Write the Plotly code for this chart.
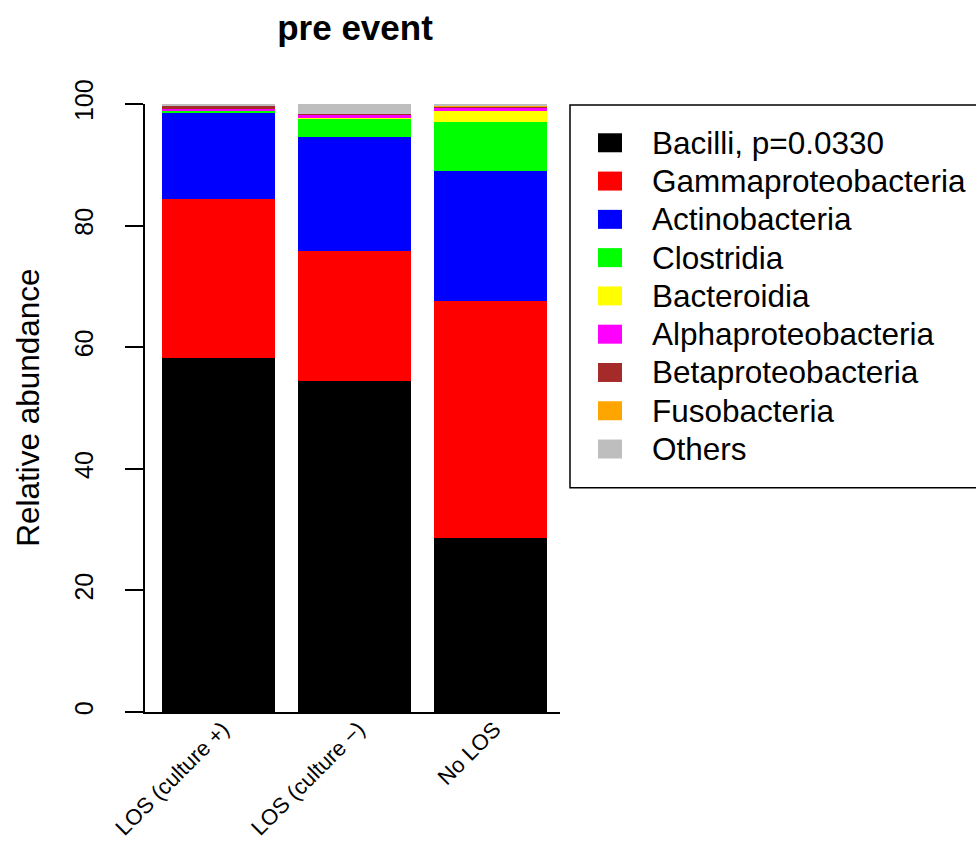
import plotly.graph_objects as go

# Relative abundance (%) of bacterial classes per group, before the event
groups = ["LOS (culture +)", "LOS (culture \u2212)", "No LOS"]

taxa = [
    "Bacilli, p=0.0330",
    "Gammaproteobacteria",
    "Actinobacteria",
    "Clostridia",
    "Bacteroidia",
    "Alphaproteobacteria",
    "Betaproteobacteria",
    "Fusobacteria",
    "Others",
]

bacilli = [58.3, 54.5, 28.7]
gammaproteobacteria = [26.1, 21.4, 38.9]
actinobacteria = [14.2, 18.7, 21.4]
clostridia = [0.3, 3.0, 8.0]
bacteroidia = [0.05, 0.1, 1.8]
alphaproteobacteria = [0.2, 0.5, 0.6]
betaproteobacteria = [0.65, 0.1, 0.2]
fusobacteria = [0.0, 0.0, 0.15]
others = [0.2, 1.7, 0.25]

series = [
    bacilli,
    gammaproteobacteria,
    actinobacteria,
    clostridia,
    bacteroidia,
    alphaproteobacteria,
    betaproteobacteria,
    fusobacteria,
    others,
]

colors = [
    "#000000",
    "#FF0000",
    "#0000FF",
    "#00FF00",
    "#FFFF00",
    "#FF00FF",
    "#A52A2A",
    "#FFA500",
    "#BEBEBE",
]

FONT = "Liberation Sans, Arial, sans-serif"

W, H = 976, 841
PL, PR, PT, PB = 145, 560, 104, 712.3  # plot area in pixels


def px_x(p):
    return (p - PL) / (PR - PL)


def px_y(p):
    return (PB - p) / (PB - PT)


fig = go.Figure()
for name, vals, col in zip(taxa, series, colors):
    fig.add_trace(
        go.Bar(
            x=groups,
            y=vals,
            name=name,
            marker=dict(color=col, line=dict(width=0)),
            width=0.83,
            showlegend=False,
        )
    )

# Boxed legend on the right
shapes = [
    dict(
        type="rect", xref="paper", yref="paper",
        x0=px_x(570), x1=px_x(990), y0=px_y(488), y1=px_y(105),
        line=dict(color="black", width=1.5), fillcolor="rgba(0,0,0,0)",
    )
]
annotations = []
for i, (name, col) in enumerate(zip(taxa, colors)):
    yc = 142.8 + i * 38.3
    shapes.append(
        dict(
            type="rect", xref="paper", yref="paper",
            x0=px_x(598), x1=px_x(622), y0=px_y(yc + 9.5), y1=px_y(yc - 9.5),
            line=dict(width=0), fillcolor=col,
        )
    )
    annotations.append(
        dict(
            text=name, xref="paper", yref="paper",
            x=px_x(650), y=px_y(yc), xanchor="left", yanchor="middle",
            showarrow=False, font=dict(family=FONT, size=31.5, color="black"),
        )
    )

# y-axis title
annotations.append(
    dict(
        text="Relative abundance", xref="paper", yref="paper",
        x=px_x(28), y=px_y(408), xanchor="center", yanchor="middle",
        textangle=-90, showarrow=False,
        font=dict(family=FONT, size=31.5, color="black"),
    )
)

fig.update_layout(
    width=W,
    height=H,
    barmode="stack",
    bargap=0,
    plot_bgcolor="white",
    paper_bgcolor="white",
    margin=dict(l=PL, r=W - PR, t=PT, b=H - PB, autoexpand=False),
    title=dict(
        text="pre event",
        x=px_x(355) * (PR - PL) / W + PL / W,
        xref="container",
        y=1 - 28 / H,
        yref="container",
        xanchor="center",
        yanchor="middle",
        font=dict(family=FONT, size=35, color="black", weight="bold"),
    ),
    shapes=shapes,
    annotations=annotations,
    showlegend=False,
)

fig.update_xaxes(
    range=[-0.542, 2.513],
    showline=True,
    linecolor="black",
    linewidth=1.5,
    ticks="",
    tickangle=-45,
    ticklabelshift=4,
    ticklabelstandoff=-6,
    tickfont=dict(family=FONT, size=22, color="black"),
    showgrid=False,
    zeroline=False,
)

fig.update_yaxes(
    range=[0, 100],
    tickvals=[0, 20, 40, 60, 80, 100],
    showline=True,
    linecolor="black",
    linewidth=1.5,
    ticks="outside",
    ticklen=18,
    tickwidth=1.5,
    tickcolor="black",
    tickangle=-90,
    ticklabelstandoff=22,
    tickfont=dict(family=FONT, size=25, color="black"),
    showgrid=False,
    zeroline=False,
)

fig.write_html("out.html")
